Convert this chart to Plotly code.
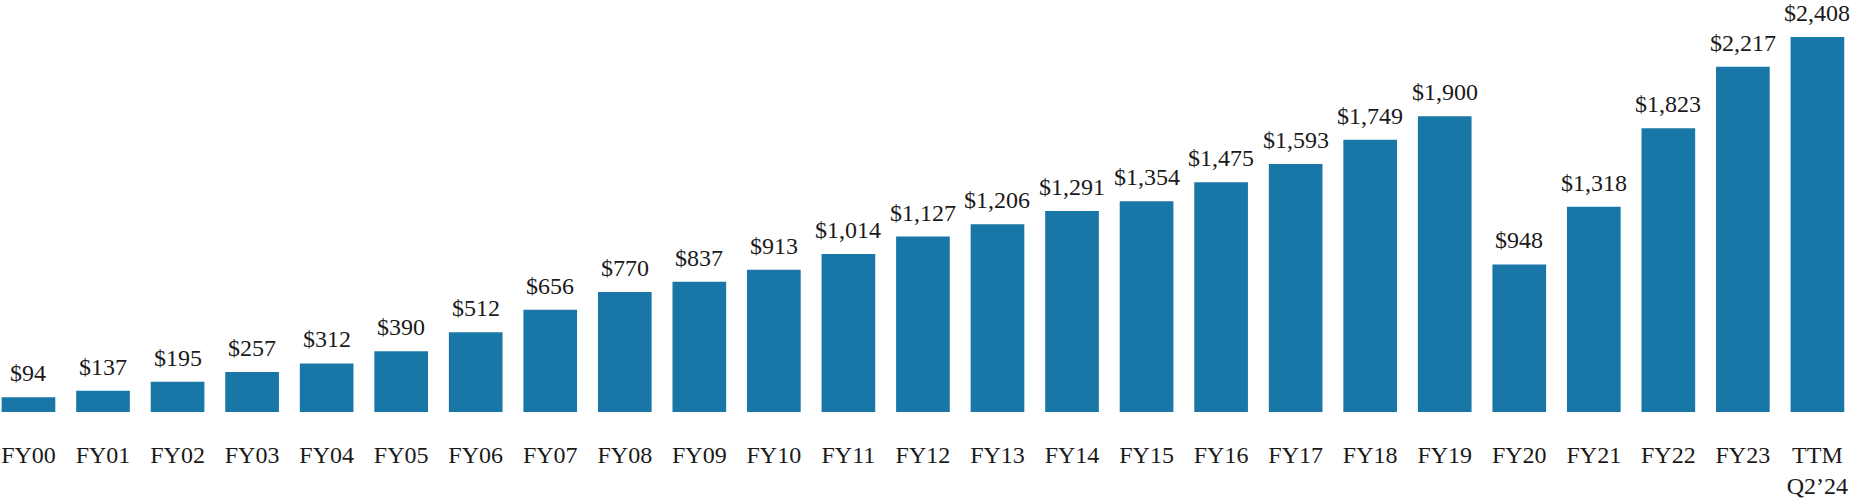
import plotly.graph_objects as go

categories = ["FY00", "FY01", "FY02", "FY03", "FY04", "FY05", "FY06", "FY07", "FY08", "FY09",
              "FY10", "FY11", "FY12", "FY13", "FY14", "FY15", "FY16", "FY17", "FY18", "FY19",
              "FY20", "FY21", "FY22", "FY23", "TTM<br>Q2\u201924"]
values = [94, 137, 195, 257, 312, 390, 512, 656, 770, 837,
          913, 1014, 1127, 1206, 1291, 1354, 1475, 1593, 1749, 1900,
          948, 1318, 1823, 2217, 2408]
labels = ["${:,}".format(v) for v in values]

FONT = "Liberation Serif"
BAR_COLOR = "#1877a6"
TEXT_COLOR = "#1a1a1a"

fig = go.Figure()
fig.add_trace(go.Bar(
    x=categories, y=values,
    marker=dict(color=BAR_COLOR, line=dict(width=0)),
    hoverinfo="skip",
))

for c, v, t in zip(categories, values, labels):
    fig.add_annotation(x=c, y=v, text=t, showarrow=False, yanchor="bottom",
                       yshift=9, font=dict(family=FONT, size=24, color=TEXT_COLOR))

fig.update_layout(
    width=1852, height=499,
    margin=dict(l=0, r=0, t=0, b=87),
    paper_bgcolor="white", plot_bgcolor="white",
    bargap=0.28,
    showlegend=False,
    xaxis=dict(range=[-0.382, 24.464], showgrid=False, zeroline=False, showline=False,
               ticks="", tickfont=dict(family=FONT, size=24, color=TEXT_COLOR),
               ticklabelstandoff=26, fixedrange=True),
    yaxis=dict(range=[0, 2646], visible=False, fixedrange=True),
)

fig.write_html("out.html", config={"displayModeBar": False},
               post_script="document.body.style.margin='0';")
